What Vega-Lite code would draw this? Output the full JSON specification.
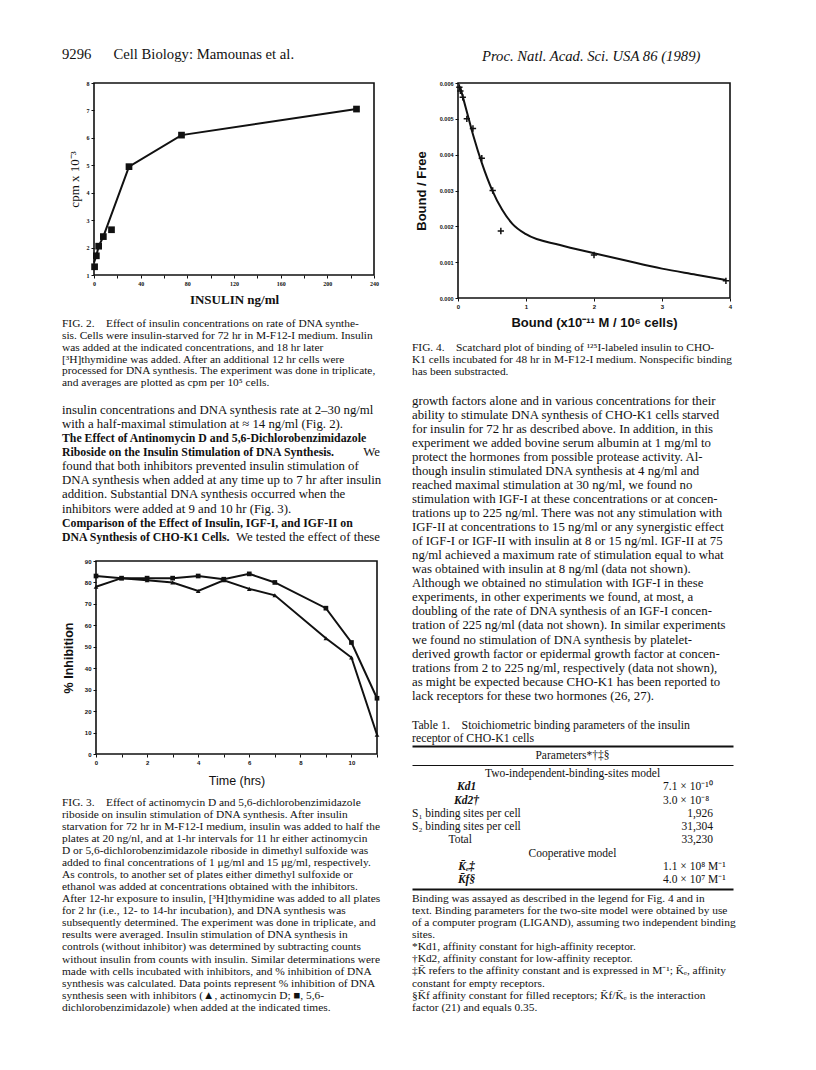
{
  "$schema": "https://vega.github.io/schema/vega-lite/v6.json",
  "padding": {"left": 62, "top": 40, "right": 83, "bottom": 56},
  "autosize": {"type": "pad"},
  "background": "white",
  "spacing": 10,
  "config": {
    "view": {"stroke": null},
    "text": {"font": "Liberation Serif", "color": "#111", "baseline": "middle", "align": "left"},
    "axis": {"grid": false, "domain": false, "tickColor": "#111", "labelColor": "#111", "titleColor": "#111", "labelFlush": false, "labelOverlap": false, "labelBound": false, "tickSize": 3, "labelPadding": 2}
  },
  "hconcat": [
    {
      "bounds": "flush",
      "spacing": 0,
      "vconcat": [
        {
          "width": 340, "height": 43,
          "data": {"values": [{"line": 0, "t": "9296\u2003\u2002Cell Biology: Mamounas et al."}]},
          "mark": {"type": "text", "fontSize": 14.7},
          "encoding": {
            "x": {"datum": 0, "type": "quantitative", "scale": {"domain": [0, 1], "range": [0, 318], "nice": false, "zero": false}, "axis": null},
            "y": {"field": "line", "type": "quantitative", "scale": {"domain": [0, 1], "range": [15, 16], "nice": false, "zero": false}, "axis": null},
            "text": {"field": "t"}
          }
        },
        {
          "width": 312, "height": 192,
          "layer": [
            {
              "data": {"values": [
                {"x": 0, "y": 1.45}, {"x": 2, "y": 1.7}, {"x": 4, "y": 2.05}, {"x": 8, "y": 2.4},
                {"x": 30, "y": 4.95}, {"x": 75, "y": 6.1}, {"x": 225, "y": 7.05}
              ]},
              "mark": {"type": "line", "color": "#111", "strokeWidth": 2},
              "encoding": {
                "x": {"field": "x", "type": "quantitative",
                  "scale": {"domain": [0, 240], "range": [32, 312], "nice": false, "zero": false},
                  "axis": {"values": [0, 20, 40, 60, 80, 100, 120, 140, 160, 180, 200, 220, 240], "tickCount": 100, "format": "d",
                    "labelExpr": "datum.value % 40 == 0 ? datum.label : ''",
                    "title": "INSULIN ng/ml", "titleFont": "Liberation Serif", "titleFontWeight": "bold", "titleFontSize": 13, "titlePadding": 7,
                    "labelFont": "Liberation Serif", "labelFontWeight": "bold", "labelFontSize": 6}},
                "y": {"field": "y", "type": "quantitative",
                  "scale": {"domain": [1, 8], "nice": false, "zero": false},
                  "axis": {"values": [1, 2, 3, 4, 5, 6, 7, 8], "tickCount": 100, "format": "d", "offset": -32,
                    "title": "cpm x 10\u207b\u00b3", "titleFont": "Liberation Serif", "titleFontWeight": "normal", "titleFontSize": 13, "titlePadding": 5,
                    "labelFont": "Liberation Serif", "labelFontWeight": "bold", "labelFontSize": 6}}
              }
            },
            {
              "data": {"values": [
                {"x": 0.5, "y": 1.3}, {"x": 2, "y": 1.7}, {"x": 4, "y": 2.05}, {"x": 8, "y": 2.4},
                {"x": 15, "y": 2.65}, {"x": 30, "y": 4.95}, {"x": 75, "y": 6.1}, {"x": 225, "y": 7.05}
              ]},
              "mark": {"type": "point", "shape": "square", "filled": true, "size": 45, "color": "#111", "opacity": 1},
              "encoding": {
                "x": {"field": "x", "type": "quantitative"},
                "y": {"field": "y", "type": "quantitative"}
              }
            },
            {
              "data": {"values": [{}]},
              "mark": {"type": "rect", "filled": false, "color": "#111", "strokeWidth": 1.6},
              "encoding": {
                "x": {"datum": 0, "type": "quantitative"}, "x2": {"datum": 240},
                "y": {"datum": 1, "type": "quantitative"}, "y2": {"datum": 8}
              }
            }
          ]
        },
        {
          "width": 340, "height": 121,
          "data": {"values": [
            {"line": 0, "t": "\u2003FIG. 2.\u2002\u2002Effect of insulin concentrations on rate of DNA synthe-"},
            {"line": 1, "t": "sis. Cells were insulin-starved for 72 hr in M-F12-I medium. Insulin"},
            {"line": 2, "t": "was added at the indicated concentrations, and 18 hr later"},
            {"line": 3, "t": "[\u00b3H]thymidine was added. After an additional 12 hr cells were"},
            {"line": 4, "t": "processed for DNA synthesis. The experiment was done in triplicate,"},
            {"line": 5, "t": "and averages are plotted as cpm per 10\u2075 cells."}
          ]},
          "mark": {"type": "text", "fontSize": 11.4},
          "encoding": {
            "x": {"datum": 0, "type": "quantitative", "scale": {"domain": [0, 1], "range": [0, 318], "nice": false, "zero": false}, "axis": null},
            "y": {"field": "line", "type": "quantitative", "scale": {"domain": [0, 5], "range": [49, 108.3], "nice": false, "zero": false}, "axis": null},
            "text": {"field": "t"}
          }
        },
        {
          "width": 340, "height": 165,
          "data": {"values": [
            {"line": 0, "k": "n", "t": "insulin concentrations and DNA synthesis rate at 2\u201330 ng/ml"},
            {"line": 1, "k": "n", "t": "with a half-maximal stimulation at \u2248 14 ng/ml (Fig. 2)."},
            {"line": 2, "k": "b", "t": "\u2003The Effect of Antinomycin D and 5,6-Dichlorobenzimidazole"},
            {"line": 3, "k": "b", "t": "Riboside on the Insulin Stimulation of DNA Synthesis."},
            {"line": 3, "k": "r", "t": "We"},
            {"line": 4, "k": "n", "t": "found that both inhibitors prevented insulin stimulation of"},
            {"line": 5, "k": "n", "t": "DNA synthesis when added at any time up to 7 hr after insulin"},
            {"line": 6, "k": "n", "t": "addition. Substantial DNA synthesis occurred when the"},
            {"line": 7, "k": "n", "t": "inhibitors were added at 9 and 10 hr (Fig. 3)."},
            {"line": 8, "k": "b", "t": "\u2003Comparison of the Effect of Insulin, IGF-I, and IGF-II on"},
            {"line": 9, "k": "b", "t": "DNA Synthesis of CHO-K1 Cells."},
            {"line": 9, "k": "r", "t": "We tested the effect of these"}
          ]},
          "encoding": {
            "y": {"field": "line", "type": "quantitative", "scale": {"domain": [0, 9], "range": [14, 140.7], "nice": false, "zero": false}, "axis": null},
            "text": {"field": "t"}
          },
          "layer": [
            {
              "transform": [{"filter": "datum.k == 'n'"}],
              "mark": {"type": "text", "fontSize": 12.8},
              "encoding": {"x": {"datum": 0, "type": "quantitative", "scale": {"domain": [0, 1], "range": [0, 318], "nice": false, "zero": false}, "axis": null}}
            },
            {
              "transform": [{"filter": "datum.k == 'b'"}],
              "mark": {"type": "text", "fontSize": 11.8, "fontWeight": "bold"},
              "encoding": {"x": {"datum": 0, "type": "quantitative", "scale": {"domain": [0, 1], "range": [0, 318], "nice": false, "zero": false}, "axis": null}}
            },
            {
              "transform": [{"filter": "datum.k == 'r'"}],
              "mark": {"type": "text", "fontSize": 12.8, "align": "right"},
              "encoding": {"x": {"datum": 1, "type": "quantitative", "scale": {"domain": [0, 1], "range": [0, 318], "nice": false, "zero": false}, "axis": null}}
            }
          ]
        },
        {
          "width": 315, "height": 193,
          "layer": [
            {
              "data": {"values": [
                {"s": "A", "t": 0, "v": 83}, {"s": "A", "t": 1, "v": 82}, {"s": "A", "t": 2, "v": 82}, {"s": "A", "t": 3, "v": 82},
                {"s": "A", "t": 4, "v": 83}, {"s": "A", "t": 5, "v": 81.5}, {"s": "A", "t": 6, "v": 84}, {"s": "A", "t": 7, "v": 80},
                {"s": "A", "t": 9, "v": 68}, {"s": "A", "t": 10, "v": 52}, {"s": "A", "t": 11, "v": 26},
                {"s": "B", "t": 0, "v": 78}, {"s": "B", "t": 1, "v": 82}, {"s": "B", "t": 2, "v": 81}, {"s": "B", "t": 3, "v": 80},
                {"s": "B", "t": 4, "v": 76}, {"s": "B", "t": 5, "v": 81}, {"s": "B", "t": 6, "v": 77}, {"s": "B", "t": 7, "v": 74},
                {"s": "B", "t": 9, "v": 54}, {"s": "B", "t": 10, "v": 45}, {"s": "B", "t": 11, "v": 9}
              ]},
              "encoding": {
                "x": {"field": "t", "type": "quantitative",
                  "scale": {"domain": [0, 11], "range": [34, 315], "nice": false, "zero": false},
                  "axis": {"values": [0, 1, 2, 3, 4, 5, 6, 7, 8, 9, 10, 11], "tickCount": 100, "format": "d",
                    "labelExpr": "datum.value % 2 == 0 && datum.value < 11 ? datum.label : ''",
                    "title": "Time (hrs)", "titleFont": "Liberation Sans", "titleFontWeight": "normal", "titleFontSize": 12.5, "titlePadding": 9,
                    "labelFont": "Liberation Sans", "labelFontWeight": "bold", "labelFontSize": 6}},
                "y": {"field": "v", "type": "quantitative",
                  "scale": {"domain": [0, 90], "nice": false, "zero": false},
                  "axis": {"values": [0, 10, 20, 30, 40, 50, 60, 70, 80, 90], "tickCount": 100, "format": "d", "offset": -34,
                    "title": "% Inhibition", "titleFont": "Liberation Sans", "titleFontWeight": "bold", "titleFontSize": 12.5, "titlePadding": 9,
                    "labelFont": "Liberation Sans", "labelFontWeight": "bold", "labelFontSize": 6}}
              },
              "layer": [
                {"mark": {"type": "line", "color": "#111", "strokeWidth": 2}, "encoding": {"detail": {"field": "s"}}},
                {"mark": {"type": "point", "filled": true, "size": 22, "color": "#111", "opacity": 1},
                  "encoding": {"shape": {"field": "s", "type": "nominal", "scale": {"domain": ["A", "B"], "range": ["square", "triangle-up"]}, "legend": null}}}
              ]
            },
            {
              "data": {"values": [{}]},
              "mark": {"type": "rect", "filled": false, "color": "#111", "strokeWidth": 1.6},
              "encoding": {
                "x": {"datum": 0, "type": "quantitative"}, "x2": {"datum": 11},
                "y": {"datum": 0, "type": "quantitative"}, "y2": {"datum": 90}
              }
            }
          ]
        },
        {
          "width": 340, "height": 260,
          "data": {"values": [
            {"line": 0, "t": "\u2003FIG. 3.\u2002\u2002Effect of actinomycin D and 5,6-dichlorobenzimidazole"},
            {"line": 1, "t": "riboside on insulin stimulation of DNA synthesis. After insulin"},
            {"line": 2, "t": "starvation for 72 hr in M-F12-I medium, insulin was added to half the"},
            {"line": 3, "t": "plates at 20 ng/nl, and at 1-hr intervals for 11 hr either actinomycin"},
            {"line": 4, "t": "D or 5,6-dichlorobenzimidazole riboside in dimethyl sulfoxide was"},
            {"line": 5, "t": "added to final concentrations of 1 \u03bcg/ml and 15 \u03bcg/ml, respectively."},
            {"line": 6, "t": "As controls, to another set of plates either dimethyl sulfoxide or"},
            {"line": 7, "t": "ethanol was added at concentrations obtained with the inhibitors."},
            {"line": 8, "t": "After 12-hr exposure to insulin, [\u00b3H]thymidine was added to all plates"},
            {"line": 9, "t": "for 2 hr (i.e., 12- to 14-hr incubation), and DNA synthesis was"},
            {"line": 10, "t": "subsequently determined. The experiment was done in triplicate, and"},
            {"line": 11, "t": "results were averaged. Insulin stimulation of DNA synthesis in"},
            {"line": 12, "t": "controls (without inhibitor) was determined by subtracting counts"},
            {"line": 13, "t": "without insulin from counts with insulin. Similar determinations were"},
            {"line": 14, "t": "made with cells incubated with inhibitors, and % inhibition of DNA"},
            {"line": 15, "t": "synthesis was calculated. Data points represent % inhibition of DNA"},
            {"line": 16, "t": "synthesis seen with inhibitors (\u25b2, actinomycin D; \u25a0, 5,6-"},
            {"line": 17, "t": "dichlorobenzimidazole) when added at the indicated times."}
          ]},
          "mark": {"type": "text", "fontSize": 11.4},
          "encoding": {
            "x": {"datum": 0, "type": "quantitative", "scale": {"domain": [0, 1], "range": [0, 318], "nice": false, "zero": false}, "axis": null},
            "y": {"field": "line", "type": "quantitative", "scale": {"domain": [0, 17], "range": [49, 253.7], "nice": false, "zero": false}, "axis": null},
            "text": {"field": "t"}
          }
        }
      ]
    },
    {
      "bounds": "flush",
      "spacing": 0,
      "vconcat": [
        {
          "width": 321, "height": 43,
          "data": {"values": [{"line": 0, "t": "Proc. Natl. Acad. Sci. USA 86 (1989)"}]},
          "mark": {"type": "text", "fontSize": 14.7, "fontStyle": "italic"},
          "encoding": {
            "x": {"datum": 0.218, "type": "quantitative", "scale": {"domain": [0, 1], "range": [0, 321], "nice": false, "zero": false}, "axis": null},
            "y": {"field": "line", "type": "quantitative", "scale": {"domain": [0, 1], "range": [17, 18], "nice": false, "zero": false}, "axis": null},
            "text": {"field": "t"}
          }
        },
        {
          "width": 318, "height": 215,
          "layer": [
            {
              "data": {"values": [
                {"b": 0.03, "bf": 0.0059}, {"b": 0.13, "bf": 0.0052}, {"b": 0.23, "bf": 0.0045}, {"b": 0.35, "bf": 0.00377},
                {"b": 0.5, "bf": 0.00302}, {"b": 0.65, "bf": 0.00246}, {"b": 0.8, "bf": 0.00207}, {"b": 1.0, "bf": 0.00178},
                {"b": 1.5, "bf": 0.00148}, {"b": 2.0, "bf": 0.00125}, {"b": 2.5, "bf": 0.00103}, {"b": 3.0, "bf": 0.00082},
                {"b": 3.5, "bf": 0.00065}, {"b": 3.94, "bf": 0.0005}
              ]},
              "mark": {"type": "line", "color": "#111", "strokeWidth": 2, "interpolate": "monotone"},
              "encoding": {
                "x": {"field": "b", "type": "quantitative",
                  "scale": {"domain": [0, 4], "range": [46, 318], "nice": false, "zero": false},
                  "axis": {"values": [0, 0.5, 1, 1.5, 2, 2.5, 3, 3.5, 4], "tickCount": 100, "format": "d",
                    "labelExpr": "datum.value % 1 == 0 ? datum.label : ''",
                    "title": "Bound (x10\u207b\u00b9\u00b9 M / 10\u2076 cells)", "titleFont": "Liberation Sans", "titleFontWeight": "bold", "titleFontSize": 13, "titlePadding": 7,
                    "labelFont": "Liberation Sans", "labelFontWeight": "bold", "labelFontSize": 6}},
                "y": {"field": "bf", "type": "quantitative",
                  "scale": {"domain": [0, 0.006], "nice": false, "zero": false},
                  "axis": {"values": [0, 0.001, 0.002, 0.003, 0.004, 0.005, 0.006], "tickCount": 100, "format": ".3f", "offset": -46,
                    "title": "Bound / Free", "titleFont": "Liberation Sans", "titleFontWeight": "bold", "titleFontSize": 13, "titlePadding": 11,
                    "labelFont": "Liberation Sans", "labelFontWeight": "bold", "labelFontSize": 5.5}}
              }
            },
            {
              "data": {"values": [
                {"b": 0.02, "bf": 0.00588}, {"b": 0.035, "bf": 0.00578}, {"b": 0.07, "bf": 0.0056}, {"b": 0.13, "bf": 0.005},
                {"b": 0.22, "bf": 0.00473}, {"b": 0.35, "bf": 0.0039}, {"b": 0.51, "bf": 0.003}, {"b": 0.63, "bf": 0.00187},
                {"b": 2.0, "bf": 0.0012}, {"b": 3.94, "bf": 0.00048}
              ]},
              "mark": {"type": "point", "shape": "M-1,0L1,0M0,-1L0,1", "filled": false, "size": 40, "strokeWidth": 1.5, "color": "#111", "opacity": 1},
              "encoding": {
                "x": {"field": "b", "type": "quantitative"},
                "y": {"field": "bf", "type": "quantitative"}
              }
            },
            {
              "data": {"values": [{}]},
              "mark": {"type": "rect", "filled": false, "color": "#111", "strokeWidth": 1.6},
              "encoding": {
                "x": {"datum": 0, "type": "quantitative"}, "x2": {"datum": 4},
                "y": {"datum": 0, "type": "quantitative"}, "y2": {"datum": 0.006}
              }
            }
          ]
        },
        {
          "width": 321, "height": 90,
          "data": {"values": [
            {"line": 0, "t": "\u2003FIG. 4.\u2002\u2002Scatchard plot of binding of \u00b9\u00b2\u2075I-labeled insulin to CHO-"},
            {"line": 1, "t": "K1 cells incubated for 48 hr in M-F12-I medium. Nonspecific binding"},
            {"line": 2, "t": "has been substracted."}
          ]},
          "mark": {"type": "text", "fontSize": 11.4},
          "encoding": {
            "x": {"datum": 0, "type": "quantitative", "scale": {"domain": [0, 1], "range": [0, 321], "nice": false, "zero": false}, "axis": null},
            "y": {"field": "line", "type": "quantitative", "scale": {"domain": [0, 2], "range": [50, 74], "nice": false, "zero": false}, "axis": null},
            "text": {"field": "t"}
          }
        },
        {
          "width": 321, "height": 322,
          "data": {"values": [
            {"line": 0, "t": "growth factors alone and in various concentrations for their"},
            {"line": 1, "t": "ability to stimulate DNA synthesis of CHO-K1 cells starved"},
            {"line": 2, "t": "for insulin for 72 hr as described above. In addition, in this"},
            {"line": 3, "t": "experiment we added bovine serum albumin at 1 mg/ml to"},
            {"line": 4, "t": "protect the hormones from possible protease activity. Al-"},
            {"line": 5, "t": "though insulin stimulated DNA synthesis at 4 ng/ml and"},
            {"line": 6, "t": "reached maximal stimulation at 30 ng/ml, we found no"},
            {"line": 7, "t": "stimulation with IGF-I at these concentrations or at concen-"},
            {"line": 8, "t": "trations up to 225 ng/ml. There was not any stimulation with"},
            {"line": 9, "t": "IGF-II at concentrations to 15 ng/ml or any synergistic effect"},
            {"line": 10, "t": "of IGF-I or IGF-II with insulin at 8 or 15 ng/ml. IGF-II at 75"},
            {"line": 11, "t": "ng/ml achieved a maximum rate of stimulation equal to what"},
            {"line": 12, "t": "was obtained with insulin at 8 ng/ml (data not shown)."},
            {"line": 13, "t": "Although we obtained no stimulation with IGF-I in these"},
            {"line": 14, "t": "experiments, in other experiments we found, at most, a"},
            {"line": 15, "t": "doubling of the rate of DNA synthesis of an IGF-I concen-"},
            {"line": 16, "t": "tration of 225 ng/ml (data not shown). In similar experiments"},
            {"line": 17, "t": "we found no stimulation of DNA synthesis by platelet-"},
            {"line": 18, "t": "derived growth factor or epidermal growth factor at concen-"},
            {"line": 19, "t": "trations from 2 to 225 ng/ml, respectively (data not shown),"},
            {"line": 20, "t": "as might be expected because CHO-K1 has been reported to"},
            {"line": 21, "t": "lack receptors for these two hormones (26, 27)."}
          ]},
          "mark": {"type": "text", "fontSize": 12.8},
          "encoding": {
            "x": {"datum": 0, "type": "quantitative", "scale": {"domain": [0, 1], "range": [0, 321], "nice": false, "zero": false}, "axis": null},
            "y": {"field": "line", "type": "quantitative", "scale": {"domain": [0, 21], "range": [12.7, 307.7], "nice": false, "zero": false}, "axis": null},
            "text": {"field": "t"}
          }
        },
        {
          "width": 321, "height": 36,
          "data": {"values": [
            {"line": 0, "t": "Table 1.\u2002\u2002Stoichiometric binding parameters of the insulin"},
            {"line": 1, "t": "receptor of CHO-K1 cells"}
          ]},
          "mark": {"type": "text", "fontSize": 11.8},
          "encoding": {
            "x": {"datum": 0, "type": "quantitative", "scale": {"domain": [0, 1], "range": [0, 321], "nice": false, "zero": false}, "axis": null},
            "y": {"field": "line", "type": "quantitative", "scale": {"domain": [0, 1], "range": [15, 28.3], "nice": false, "zero": false}, "axis": null},
            "text": {"field": "t"}
          }
        },
        {
          "width": 321, "height": 19,
          "data": {"values": [{"line": 0, "t": "Parameters*\u2020\u2021\u00a7"}]},
          "mark": {"type": "text", "fontSize": 11.5, "align": "center"},
          "encoding": {
            "x": {"datum": 0.5, "type": "quantitative", "scale": {"domain": [0, 1], "range": [0, 321], "nice": false, "zero": false},
              "axis": {"orient": "top", "labels": false, "ticks": false, "grid": false, "domain": true, "domainWidth": 2, "domainColor": "#111", "title": null}},
            "y": {"field": "line", "type": "quantitative", "scale": {"domain": [0, 1], "range": [9.7, 10.7], "nice": false, "zero": false}, "axis": null},
            "text": {"field": "t"}
          }
        },
        {
          "width": 321, "height": 124,
          "data": {"values": [
            {"line": 0, "k": "h", "t": "Two-independent-binding-sites model"},
            {"line": 1, "k": "lk", "t": "Kd1"},
            {"line": 1, "k": "vl", "t": "7.1 \u00d7 10\u207b\u00b9\u2070"},
            {"line": 2, "k": "lk", "t": "Kd2\u2020"},
            {"line": 2, "k": "vl", "t": "3.0 \u00d7 10\u207b\u2078"},
            {"line": 3, "k": "ll", "t": "S\u2081 binding sites per cell"},
            {"line": 3, "k": "vr", "t": "1,926"},
            {"line": 4, "k": "ll", "t": "S\u2082 binding sites per cell"},
            {"line": 4, "k": "vr", "t": "31,304"},
            {"line": 5, "k": "lc", "t": "Total"},
            {"line": 5, "k": "vr", "t": "33,230"},
            {"line": 6, "k": "h", "t": "Cooperative model"},
            {"line": 7, "k": "lk", "t": "K\u0304\u2091\u2021"},
            {"line": 7, "k": "vl", "t": "1.1 \u00d7 10\u2078 M\u207b\u00b9"},
            {"line": 8, "k": "lk", "t": "K\u0304f\u00a7"},
            {"line": 8, "k": "vl", "t": "4.0 \u00d7 10\u2077 M\u207b\u00b9"}
          ]},
          "encoding": {
            "y": {"field": "line", "type": "quantitative", "scale": {"domain": [0, 8], "range": [9, 115], "nice": false, "zero": false}, "axis": null},
            "text": {"field": "t"}
          },
          "layer": [
            {
              "transform": [{"filter": "datum.k == 'h'"}],
              "mark": {"type": "text", "fontSize": 11.5, "align": "center"},
              "encoding": {"x": {"datum": 0.5, "type": "quantitative", "scale": {"domain": [0, 1], "range": [0, 321], "nice": false, "zero": false},
                "axis": {"orient": "top", "labels": false, "ticks": false, "grid": false, "domain": true, "domainWidth": 1, "domainColor": "#111", "title": null}}}
            },
            {
              "transform": [{"filter": "datum.k == 'lk'"}],
              "mark": {"type": "text", "fontSize": 11.5, "align": "center", "fontStyle": "italic", "fontWeight": "bold"},
              "encoding": {"x": {"datum": 0.17, "type": "quantitative", "scale": {"domain": [0, 1], "range": [0, 321], "nice": false, "zero": false},
                "axis": {"orient": "top", "labels": false, "ticks": false, "grid": false, "domain": true, "domainWidth": 1, "domainColor": "#111", "title": null}}}
            },
            {
              "transform": [{"filter": "datum.k == 'lc'"}],
              "mark": {"type": "text", "fontSize": 11.5, "align": "center"},
              "encoding": {"x": {"datum": 0.15, "type": "quantitative", "scale": {"domain": [0, 1], "range": [0, 321], "nice": false, "zero": false},
                "axis": {"orient": "top", "labels": false, "ticks": false, "grid": false, "domain": true, "domainWidth": 1, "domainColor": "#111", "title": null}}}
            },
            {
              "transform": [{"filter": "datum.k == 'll'"}],
              "mark": {"type": "text", "fontSize": 11.5},
              "encoding": {"x": {"datum": 0, "type": "quantitative", "scale": {"domain": [0, 1], "range": [0, 321], "nice": false, "zero": false},
                "axis": {"orient": "top", "labels": false, "ticks": false, "grid": false, "domain": true, "domainWidth": 1, "domainColor": "#111", "title": null}}}
            },
            {
              "transform": [{"filter": "datum.k == 'vl'"}],
              "mark": {"type": "text", "fontSize": 11.5},
              "encoding": {"x": {"datum": 0.782, "type": "quantitative", "scale": {"domain": [0, 1], "range": [0, 321], "nice": false, "zero": false},
                "axis": {"orient": "top", "labels": false, "ticks": false, "grid": false, "domain": true, "domainWidth": 1, "domainColor": "#111", "title": null}}}
            },
            {
              "transform": [{"filter": "datum.k == 'vr'"}],
              "mark": {"type": "text", "fontSize": 11.5, "align": "right"},
              "encoding": {"x": {"datum": 0.938, "type": "quantitative", "scale": {"domain": [0, 1], "range": [0, 321], "nice": false, "zero": false},
                "axis": {"orient": "top", "labels": false, "ticks": false, "grid": false, "domain": true, "domainWidth": 1, "domainColor": "#111", "title": null}}}
            }
          ]
        },
        {
          "width": 321, "height": 125,
          "data": {"values": [
            {"line": 0, "t": "\u2003Binding was assayed as described in the legend for Fig. 4 and in"},
            {"line": 1, "t": "text. Binding parameters for the two-site model were obtained by use"},
            {"line": 2, "t": "of a computer program (LIGAND), assuming two independent binding"},
            {"line": 3, "t": "sites."},
            {"line": 4, "t": "*Kd1, affinity constant for high-affinity receptor."},
            {"line": 5, "t": "\u2020Kd2, affinity constant for low-affinity receptor."},
            {"line": 6, "t": "\u2021K\u0304 refers to the affinity constant and is expressed in M\u207b\u00b9; K\u0304\u2091, affinity"},
            {"line": 7, "t": "\u2002constant for empty receptors."},
            {"line": 8, "t": "\u00a7K\u0304f affinity constant for filled receptors; K\u0304f/K\u0304\u2091 is the interaction"},
            {"line": 9, "t": "\u2002factor (21) and equals 0.35."}
          ]},
          "mark": {"type": "text", "fontSize": 11.4},
          "encoding": {
            "x": {"datum": 0, "type": "quantitative", "scale": {"domain": [0, 1], "range": [0, 321], "nice": false, "zero": false},
              "axis": {"orient": "top", "labels": false, "ticks": false, "grid": false, "domain": true, "domainWidth": 2, "domainColor": "#111", "title": null}},
            "y": {"field": "line", "type": "quantitative", "scale": {"domain": [0, 9], "range": [10, 118.7], "nice": false, "zero": false}, "axis": null},
            "text": {"field": "t"}
          }
        }
      ]
    }
  ]
}
